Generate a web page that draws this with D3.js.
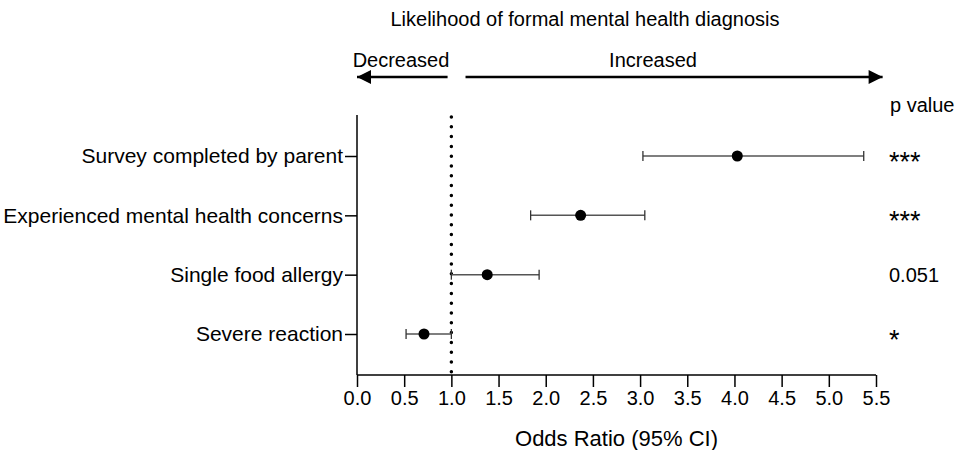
<!DOCTYPE html>
<html>
<head>
<meta charset="utf-8">
<script src="https://cdn.jsdelivr.net/npm/d3@7"></script>
<style>
  body { margin: 0; background: #fff; }
  svg text { font-family: "Liberation Sans", Arial, sans-serif; fill: #000; }
</style>
</head>
<body>
<div id="viz"></div>
<script>
// data
var categories = ["Survey completed by parent", "Experienced mental health concerns", "Single food allergy", "Severe reaction"];
var oddsRatio = [4.03, 2.37, 1.38, 0.71];
var ciLow = [3.03, 1.84, 1.0, 0.52];
var ciHigh = [5.37, 3.05, 1.93, 1.0];
var pValues = ["***", "***", "0.051", "*"];
var xTicks = [0, 0.5, 1, 1.5, 2, 2.5, 3, 3.5, 4, 4.5, 5, 5.5];

var w = 959, h = 450;
var margin = { left: 357, right: 83, top: 127, bottom: 75 };
var fs = "20px";

var svg = d3.select("div#viz").append("svg")
  .attr("width", w)
  .attr("height", h);

var x = d3.scaleLinear().domain([0, 5.5]).range([margin.left, w - margin.right]);
var y = d3.scalePoint().domain(categories)
  .range([156, 334]);
var yBottom = h - margin.bottom; // 375

// axes
var xAxis = d3.axisBottom(x).tickValues(xTicks).tickFormat(d3.format(".1f"))
  .tickSize(12).tickSizeOuter(0).tickPadding(4);
var gx = svg.append("g")
  .attr("transform", "translate(0," + yBottom + ")")
  .call(xAxis);
gx.select(".domain").attr("stroke", "#000").attr("stroke-width", 1.5)
  .attr("d", "M" + x(0) + ",0H" + x(5.5));
gx.selectAll(".tick line").attr("stroke", "#000").attr("stroke-width", 1.5);
gx.selectAll(".tick text").style("font-size", fs).attr("dy", "0.71em");

var yAxis = d3.axisLeft(y).tickSize(12).tickSizeOuter(0).tickPadding(2);
var gy = svg.append("g")
  .attr("transform", "translate(" + margin.left + ",0)")
  .call(yAxis);
gy.select(".domain").attr("stroke", "#000").attr("stroke-width", 1.5)
  .attr("d", "M0,115V" + yBottom);
gy.selectAll(".tick line").attr("stroke", "#000").attr("stroke-width", 1.5);
gy.selectAll(".tick text").style("font-size", "21px");

// reference line at OR = 1
svg.append("line")
  .attr("x1", x(1)).attr("x2", x(1))
  .attr("y1", 117).attr("y2", yBottom)
  .attr("stroke", "#000")
  .attr("stroke-width", 3.5)
  .attr("stroke-linecap", "round")
  .attr("stroke-dasharray", "0 9.8");

// error bars
var rows = categories.map(function(c, i) {
  return { cat: c, or: oddsRatio[i], lo: ciLow[i], hi: ciHigh[i], p: pValues[i] };
});

var bars = svg.append("g").selectAll("g").data(rows).enter().append("g");
bars.append("line")
  .attr("x1", function(d) { return x(d.lo); })
  .attr("x2", function(d) { return x(d.hi); })
  .attr("y1", function(d) { return y(d.cat); })
  .attr("y2", function(d) { return y(d.cat); })
  .attr("stroke", "#555").attr("stroke-width", 1.5);
bars.selectAll(".cap")
  .data(function(d) { return [{ v: d.lo, cat: d.cat }, { v: d.hi, cat: d.cat }]; })
  .enter().append("line")
  .attr("class", "cap")
  .attr("x1", function(d) { return x(d.v); })
  .attr("x2", function(d) { return x(d.v); })
  .attr("y1", function(d) { return y(d.cat) - 5; })
  .attr("y2", function(d) { return y(d.cat) + 5; })
  .attr("stroke", "#333").attr("stroke-width", 1.3);
bars.append("circle")
  .attr("cx", function(d) { return x(d.or); })
  .attr("cy", function(d) { return y(d.cat); })
  .attr("r", 5.5)
  .attr("fill", "#000");

// p values
svg.append("text")
  .attr("x", 890).attr("y", 112)
  .style("font-size", fs)
  .text("p value");
svg.append("g").selectAll("text").data(rows).enter().append("text")
  .attr("x", 889)
  .attr("y", function(d) { return y(d.cat) + (d.p.indexOf("*") === 0 ? 15 : 7); })
  .style("font-size", function(d) { return d.p.indexOf("*") === 0 ? "27px" : fs; })
  .text(function(d) { return d.p; });

// title and direction arrows
svg.append("text")
  .attr("x", 585).attr("y", 26)
  .attr("text-anchor", "middle")
  .style("font-size", "20px")
  .text("Likelihood of formal mental health diagnosis");

var arrowY = 77;
var defs = svg.append("defs");
defs.append("marker")
  .attr("id", "head")
  .attr("viewBox", "0 0 10 10")
  .attr("refX", 10).attr("refY", 5)
  .attr("markerWidth", 18).attr("markerHeight", 14)
  .attr("markerUnits", "userSpaceOnUse")
  .attr("orient", "auto")
  .append("path").attr("d", "M0,0L10,5L0,10Z").attr("fill", "#000");

svg.append("line")
  .attr("x1", x(0.96)).attr("x2", x(0))
  .attr("y1", arrowY).attr("y2", arrowY)
  .attr("stroke", "#000").attr("stroke-width", 2.5)
  .attr("marker-end", "url(#head)");
svg.append("line")
  .attr("x1", x(1.15)).attr("x2", x(5.57))
  .attr("y1", arrowY).attr("y2", arrowY)
  .attr("stroke", "#000").attr("stroke-width", 2.5)
  .attr("marker-end", "url(#head)");

svg.append("text")
  .attr("x", 401).attr("y", 67)
  .attr("text-anchor", "middle")
  .style("font-size", fs)
  .text("Decreased");
svg.append("text")
  .attr("x", 653).attr("y", 67)
  .attr("text-anchor", "middle")
  .style("font-size", fs)
  .text("Increased");

// x axis title
svg.append("text")
  .attr("x", x(2.75)).attr("y", 446)
  .attr("text-anchor", "middle")
  .style("font-size", "22px")
  .text("Odds Ratio (95% CI)");
</script>
</body>
</html>
